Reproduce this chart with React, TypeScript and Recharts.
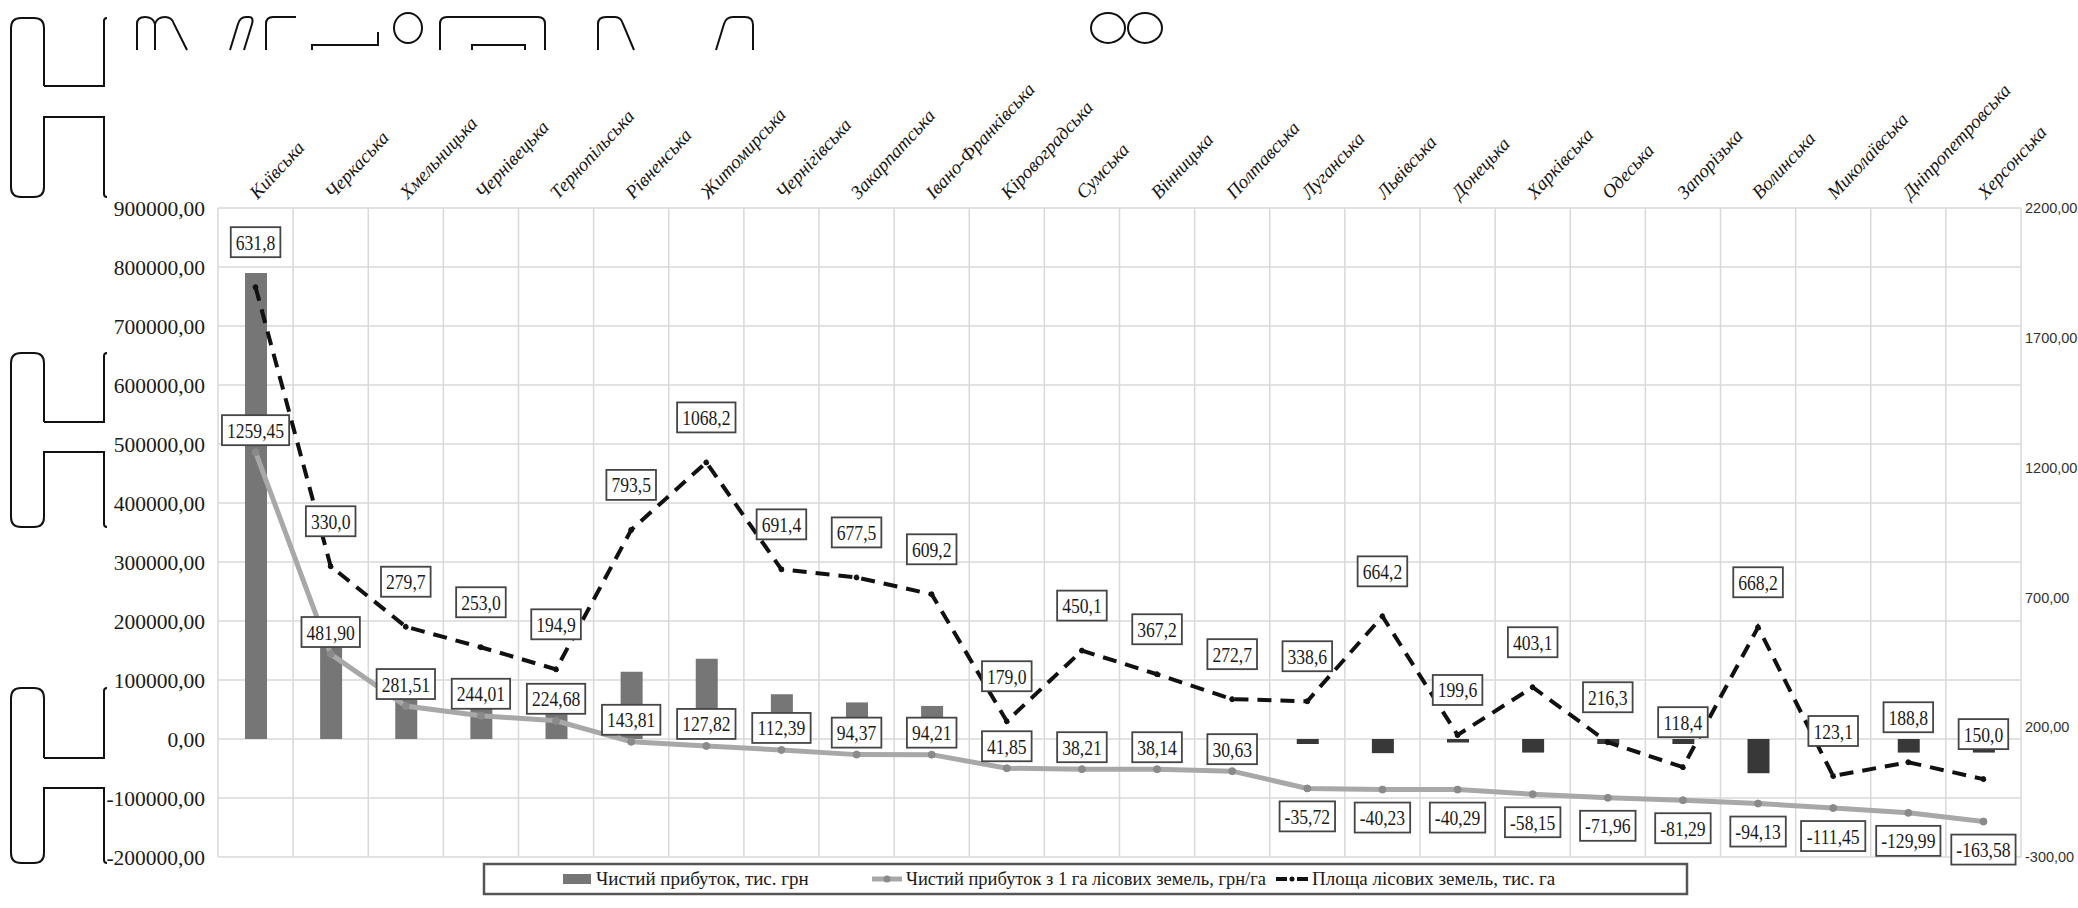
import React from 'react';
import { ComposedChart, Bar, Line, XAxis, YAxis, CartesianGrid, LabelList, Cell } from 'recharts';

const regions = [
  'Київська', 'Черкаська', 'Хмельницька', 'Чернівецька', 'Тернопільська', 'Рівненська',
  'Житомирська', 'Чернігівська', 'Закарпатська', 'Івано-Франківська', 'Кіровоградська', 'Сумська',
  'Вінницька', 'Полтавська', 'Луганська', 'Львівська', 'Донецька', 'Харківська',
  'Одеська', 'Запорізька', 'Волинська', 'Миколаївська', 'Дніпропетровська', 'Херсонська',
];

// Чистий прибуток, тис. грн (left axis)
const netProfit = [
  790000, 157000, 73000, 59000, 42000, 114000,
  136000, 76000, 62000, 56000, 10000, 9000,
  8000, 7000, -8500, -24000, -6000, -23000,
  -8500, -8500, -58000, -8500, -23000, -23000,
];

// Чистий прибуток з 1 га лісових земель, грн/га (right axis)
const profitPerHa = [
  1259.45, 481.9, 281.51, 244.01, 224.68, 143.81,
  127.82, 112.39, 94.37, 94.21, 41.85, 38.21,
  38.14, 30.63, -35.72, -40.23, -40.29, -58.15,
  -71.96, -81.29, -94.13, -111.45, -129.99, -163.58,
];

// Площа лісових земель, тис. га — values printed in the label boxes
const forestAreaLabels = [
  631.8, 330.0, 279.7, 253.0, 194.9, 793.5,
  1068.2, 691.4, 677.5, 609.2, 179.0, 450.1,
  367.2, 272.7, 338.6, 664.2, 199.6, 403.1,
  216.3, 118.4, 668.2, 123.1, 188.8, 150.0,
];

// Dashed line as it is drawn in the picture (right axis)
const areaLinePlotted = [
  1895, 820, 587, 508, 423, 960,
  1220, 808, 777, 712, 223, 495,
  404, 308, 300, 627, 170, 354,
  142, 46, 585, 12, 65, 0,
];

const leftTicks = [-200000, -100000, 0, 100000, 200000, 300000, 400000, 500000, 600000, 700000, 800000, 900000];
const rightTicks = [-300, 200, 700, 1200, 1700, 2200];

const legendNames = [
  'Чистий прибуток, тис. грн',
  'Чистий прибуток з 1 га лісових земель, грн/га',
  'Площа лісових земель, тис. га',
];

const data = regions.map((name, i) => ({
  name,
  profit: netProfit[i],
  perHa: profitPerHa[i],
  area: areaLinePlotted[i],
  areaLabel: forestAreaLabels[i],
}));

const fmt = (v: number, d: number) => v.toFixed(d).replace('.', ',');
const SERIF = "'Liberation Serif', 'Times New Roman', serif";
const SANS = "'Liberation Sans', Arial, sans-serif";

function BoxLabel({ x, y, text }: { x: number; y: number; text: string }) {
  const fs = 22;
  const sx = 0.8;
  let w = 0;
  for (const ch of text) w += ch === ',' ? 0.25 : ch === '-' ? 0.333 : 0.5;
  w = w * fs * sx + 10;
  const h = 30;
  return (
    <g>
      <rect x={x - w / 2} y={y - h / 2} width={w} height={h} fill="#ffffff" stroke="#454545" strokeWidth={1.8} />
      <text
        transform={`translate(${x},${y + 7.5}) scale(${sx},1)`}
        textAnchor="middle"
        fontFamily={SERIF}
        style={{ fontFamily: SERIF }}
        fontSize={fs}
        fill="#1a1a1a"
      >
        {text}
      </text>
    </g>
  );
}

const perHaLabel = (props: any) => {
  const px = props.x ?? props.viewBox?.x;
  const py = props.y ?? props.viewBox?.y;
  if (px == null || py == null) return null;
  const v = Number(props.value);
  const dy = v >= 0 ? -22 : 28;
  return <BoxLabel x={px} y={py + dy} text={fmt(v, 2)} />;
};

const areaLabel = (props: any) => {
  const px = props.x ?? props.viewBox?.x;
  const py = props.y ?? props.viewBox?.y;
  if (px == null || py == null) return null;
  const v = Number(props.value);
  return <BoxLabel x={px} y={py - 45} text={fmt(v, 1)} />;
};

const XTick = (props: any) => {
  const { x, y, payload } = props;
  const ty = y - 8;
  return (
    <text
      x={x + 2}
      y={ty}
      transform={`rotate(-47 ${x + 2} ${ty})`}
      fontFamily={SERIF}
      style={{ fontFamily: SERIF, fontStyle: 'italic' }}
      fontStyle="italic"
      fontSize={19}
      fill="#151515"
      textAnchor="start"
    >
      {payload.value}
    </text>
  );
};

const LeftTick = (props: any) => {
  const { x, y, payload } = props;
  return (
    <text x={x} y={y} dy="0.36em" textAnchor="end" fontFamily={SERIF} style={{ fontFamily: SERIF }} fontSize={21.5} fill="#1a1a1a">
      {fmt(Number(payload.value), 2)}
    </text>
  );
};

const RightTick = (props: any) => {
  const { x, y, payload } = props;
  return (
    <text x={x} y={y} dy="0.36em" textAnchor="start" fontFamily={SANS} style={{ fontFamily: SANS }} fontSize={14.5} fill="#333">
      {fmt(Number(payload.value), 2)}
    </text>
  );
};

const verticalGen = (props: any) => {
  const off = props?.offset ?? {};
  const left = off.left ?? 218;
  const width = off.width ?? 1803;
  const n = regions.length;
  const out: number[] = [];
  for (let i = 0; i <= n; i++) out.push(left + (i * width) / n);
  return out;
};

function Decorations() {
  const st = { fill: 'none', stroke: '#111', strokeWidth: 2 } as const;
  const hShape = (T: number, B: number, y1: number, y2: number) =>
    `M44 ${y1} L44 ${T + 10} Q44 ${T} 34 ${T} L21 ${T} Q11 ${T} 11 ${T + 10} L11 ${B - 10} Q11 ${B} 21 ${B} L34 ${B} Q44 ${B} 44 ${B - 10} L44 ${y2} L104 ${y2} L104 ${B - 3} Q104 ${B} 107 ${B} M44 ${y1} L104 ${y1} L104 ${T + 3} Q104 ${T} 107 ${T}`;
  return (
    <g>
      <path d={hShape(18, 197, 86, 117)} {...st} />
      <path d={hShape(353, 527, 422, 452)} {...st} />
      <path d={hShape(688, 863, 758, 788)} {...st} />
      <path d="M137 50 L137 24 Q137 17 145 17 Q153 17 155 24 L155 50 M155 24 Q157 17 165 17 Q172 17 174 24 L187 50" {...st} />
      <path d="M230 50 L238 24 Q240 17 246 17 L249 17 Q254 17 252 24 L244 50" {...st} />
      <path d="M266 50 L266 24 Q266 17 273 17 L296 17" {...st} />
      <path d="M312 50 L312 45 L378 45 L378 32" {...st} />
      <ellipse cx={408} cy={28} rx={14} ry={15} {...st} />
      <path d="M440 50 L440 24 Q440 17 447 17 L538 17 Q545 17 545 24 L545 50" {...st} />
      <path d="M472 50 L472 45 L525 45 L525 50" {...st} />
      <path d="M598 50 L598 24 Q598 17 606 17 L615 17 Q621 17 623 24 L634 50" {...st} />
      <path d="M716 50 L724 24 Q726 17 733 17 L745 17 Q753 17 753 25 L753 50" {...st} />
      <ellipse cx={1108} cy={28} rx={17} ry={15} {...st} />
      <ellipse cx={1145} cy={28} rx={17} ry={15} {...st} />
    </g>
  );
}

function LegendBox() {
  const y = 879;
  return (
    <g fontFamily={SERIF} style={{ fontFamily: SERIF }} fontSize={19} fill="#1a1a1a">
      <rect x={484} y={864} width={1203} height={30} fill="#fff" stroke="#555" strokeWidth={2.5} />
      <rect x={563} y={y - 5} width={28} height={10} fill="#767676" />
      <text x={596} y={y + 6}>{legendNames[0]}</text>
      <line x1={872} y1={y} x2={902} y2={y} stroke="#a8a8a8" strokeWidth={5} />
      <circle cx={887} cy={y} r={3.5} fill="#8a8a8a" />
      <text x={906} y={y + 6} textLength={360} lengthAdjust="spacingAndGlyphs">{legendNames[1]}</text>
      <line x1={1276} y1={y} x2={1287} y2={y} stroke="#111" strokeWidth={4} />
      <circle cx={1292} cy={y} r={2.5} fill="#111" />
      <line x1={1297} y1={y} x2={1308} y2={y} stroke="#111" strokeWidth={4} />
      <text x={1312} y={y + 6}>{legendNames[2]}</text>
    </g>
  );
}

export default function App() {
  return (
    <div style={{ position: 'absolute', left: 0, top: 0, width: 2078, height: 908, background: '#ffffff' }}>
      <ComposedChart
        width={2078}
        height={908}
        data={data}
        margin={{ top: 0, right: 0, bottom: 51, left: 0 }}
      >
        <CartesianGrid
          yAxisId="left"
          stroke="#d9d9d9"
          strokeWidth={1.5}
          verticalCoordinatesGenerator={verticalGen}
        />
        <XAxis
          dataKey="name"
          orientation="top"
          height={208}
          interval={0}
          tickLine={false}
          axisLine={false}
          tickSize={0}
          tickMargin={0}
          tick={<XTick />}
        />
        <YAxis
          yAxisId="left"
          domain={[-200000, 900000]}
          ticks={leftTicks}
          interval={0}
          width={218}
          tickLine={false}
          axisLine={false}
          tickSize={0}
          tickMargin={13}
          tick={<LeftTick />}
        />
        <YAxis
          yAxisId="right"
          orientation="right"
          domain={[-300, 2200]}
          ticks={rightTicks}
          interval={0}
          width={57}
          tickLine={false}
          axisLine={false}
          tickSize={0}
          tickMargin={4}
          tick={<RightTick />}
        />
        <Bar yAxisId="left" dataKey="profit" barSize={22} isAnimationActive={false}>
          {data.map((d, i) => (
            <Cell key={i} fill={d.profit < 0 ? '#383838' : '#767676'} />
          ))}
        </Bar>
        <Line
          yAxisId="right"
          type="linear"
          dataKey="perHa"
          stroke="#a8a8a8"
          strokeWidth={5}
          dot={{ r: 3.5, fill: '#8a8a8a', stroke: '#8a8a8a', strokeWidth: 1 }}
          isAnimationActive={false}
        >
          <LabelList dataKey="perHa" content={perHaLabel} />
        </Line>
        <Line
          yAxisId="right"
          type="linear"
          dataKey="area"
          stroke="#111"
          strokeWidth={4}
          strokeDasharray="14 9"
          dot={{ r: 2.5, fill: '#111', stroke: '#111', strokeWidth: 1 }}
          isAnimationActive={false}
        >
          <LabelList dataKey="areaLabel" content={areaLabel} />
        </Line>
      </ComposedChart>
      <svg
        width={2078}
        height={908}
        style={{ position: 'absolute', left: 0, top: 0, pointerEvents: 'none' }}
      >
        <Decorations />
        <LegendBox />
      </svg>
    </div>
  );
}
